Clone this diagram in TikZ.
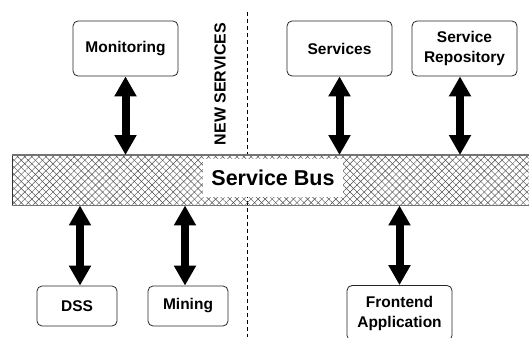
\documentclass[tikz,border=0pt]{standalone}
\usepackage{fontspec}
\setmainfont{Liberation Sans}
\usetikzlibrary{arrows.meta,patterns.meta}
\begin{document}
\begin{tikzpicture}[x=1pt,y=-1pt,
  box/.style={draw=black!85, line width=0.8pt, rounded corners=5pt, fill=white,
    font=\fontsize{15.5}{20}\selectfont\bfseries, align=center, inner sep=0pt},
  dbl/.style={line width=8pt, {Triangle[width=21pt,length=20pt]}-{Triangle[width=21pt,length=20pt]}},
  busbox/.style={minimum width=540pt, minimum height=50pt,
    anchor=north west, inner sep=0pt,
    pattern={Lines[angle=45,distance=5pt,line width=0.45pt]}, pattern color=black!70},
  buslabel/.style={fill=white, font=\fontsize{21.5}{24}\selectfont\bfseries,
    minimum width=140pt, minimum height=38pt, inner sep=0pt},
  divider/.style={line width=0.8pt, dash pattern=on 4pt off 3pt}
]
\path[use as bounding box] (0,0) rectangle (529,337);
\clip (0,0) rectangle (529,337);

\coordinate (dtop) at (247,12);
\coordinate (dbot) at (247,337);
\draw[divider] (dtop) -- (dbot);

\node[busbox] (bus) at (12,155) {};
\fill[pattern={Lines[angle=-45,distance=5pt,line width=0.45pt]}, pattern color=black!70]
  (bus.south west) rectangle (bus.north east);
\draw[draw=black!80, line width=0.8pt] (bus.south west) -- (bus.north west);
\draw[draw=black!55, line width=1.8pt] (bus.north west) -- (bus.north east)
  (bus.south west) -- (bus.south east);
\node[buslabel] (buslbl) at (273,178) {Service Bus};

\node[box, minimum width=105pt, minimum height=55pt] (mon) at (125.5,48.5) {Monitoring};
\node[box, minimum width=105pt, minimum height=55pt] (svc) at (339.5,48.5) {Services};
\node[box, minimum width=105pt, minimum height=55pt] (repo) at (464.5,48.5) {Service\\Repository};
\node[box, minimum width=80pt, minimum height=40pt] (dss) at (77,306) {DSS};
\node[box, minimum width=80pt, minimum height=40pt] (mining) at (188,306) {Mining};
\node[box, minimum width=105pt, minimum height=55pt] (front) at (399.5,313) {Frontend\\Application};

\node[rotate=90, font=\fontsize{16}{18}\selectfont\bfseries, inner sep=0pt] (newsvc) at (220,84) {NEW SERVICES};

\draw[dbl] (mon.south) -- (mon.south |- bus.north);
\draw[dbl] (svc.south) -- (svc.south |- bus.north);
\draw[dbl] ([xshift=-4.5pt]repo.south) -- ([xshift=-4.5pt]repo.south |- bus.north);
\draw[dbl] ([xshift=3pt]dss.north) -- ([xshift=3pt]dss.north |- bus.south);
\draw[dbl] ([xshift=-3pt]mining.north) -- ([xshift=-3pt]mining.north |- bus.south);
\draw[dbl] (front.north) -- (front.north |- bus.south);
\end{tikzpicture}
\end{document}
